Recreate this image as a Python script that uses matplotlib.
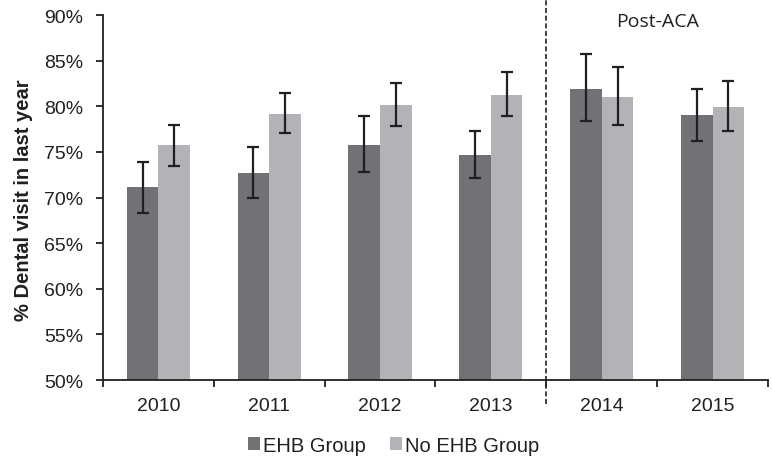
import numpy as np
import matplotlib
matplotlib.use('Agg')
import matplotlib.pyplot as plt
from matplotlib.ticker import FixedLocator, FuncFormatter
import matplotlib.transforms as mtransforms

years = ['2010', '2011', '2012', '2013', '2014', '2015']

# % with a dental visit in the last year, with CI bounds
ehb = [71.1, 72.7, 75.8, 74.7, 81.9, 79.0]
ehb_hi = [73.9, 75.5, 78.9, 77.3, 85.7, 81.9]
ehb_lo = [68.3, 70.0, 72.8, 72.1, 78.4, 76.2]

no_ehb = [75.8, 79.2, 80.1, 81.25, 81.0, 79.9]
no_ehb_hi = [78.0, 81.4, 82.5, 83.7, 84.3, 82.8]
no_ehb_lo = [73.5, 77.1, 77.8, 78.9, 78.0, 77.3]

plt.rcParams['font.family'] = ['Liberation Sans', 'DejaVu Sans']

x = np.arange(len(years))
w = 0.285

fig = plt.figure(figsize=(7.72, 4.6), dpi=100)
ax = fig.add_axes([0.1334, 0.1717, 0.8614, 0.7935])

dark = '#717276'
light = '#b2b3b6'
ecol = '#231f20'

ehb = np.array(ehb)
no_ehb = np.array(no_ehb)
err1 = [ehb - np.array(ehb_lo), np.array(ehb_hi) - ehb]
err2 = [no_ehb - np.array(no_ehb_lo), np.array(no_ehb_hi) - no_ehb]

ax.bar(x - w/2, ehb - 50, w, bottom=50, color=dark, label='EHB Group', zorder=2)
ax.bar(x + w/2, no_ehb - 50, w, bottom=50, color=light, label='No EHB Group', zorder=2)
ax.errorbar(x - w/2, ehb, yerr=err1, fmt='none', ecolor=ecol, elinewidth=1.6,
            capsize=4, capthick=1.6, zorder=3)
ax.errorbar(x + w/2, no_ehb, yerr=err2, fmt='none', ecolor=ecol, elinewidth=1.6,
            capsize=4, capthick=1.6, zorder=3)

ax.set_xlim(-0.5, 5.5)
ax.set_ylim(50, 90)
ax.set_yticks(np.arange(50, 91, 5))
ax.yaxis.set_major_formatter(FuncFormatter(lambda v, p: f'{v:.0f}%'))
ax.set_xticks(x)
ax.set_xticklabels(years)
ax.xaxis.set_minor_locator(FixedLocator(np.arange(-0.5, 6, 1)))
ax.tick_params(axis='x', which='major', length=0, pad=12, labelsize=14, colors='#231f20')
ax.tick_params(axis='x', which='minor', length=5, width=1.3, color='#231f20')
ax.tick_params(axis='y', length=5, width=1.3, pad=9, labelsize=14, colors='#231f20')

for s in ['top', 'right']:
    ax.spines[s].set_visible(False)
for s in ['left', 'bottom']:
    ax.spines[s].set_linewidth(1.3)
    ax.spines[s].set_color('#231f20')

ax.set_ylabel('% Dental visit in last year', fontsize=14.5, fontweight='bold', color='#231f20')
ax.yaxis.set_label_coords(-0.105, 0.496)

# pre/post ACA divider
trans = mtransforms.blended_transform_factory(ax.transData, ax.transAxes)
ax.plot([3.5, 3.5], [-0.066, 1.05], transform=trans, color='#231f20', lw=1.2,
        ls=(0, (3, 1.6)), clip_on=False, zorder=4)
ax.text(4.5, 0.984, 'Post-ACA', transform=trans, ha='center', va='center',
        fontsize=14, family='Open Sans', color='#231f20')

fig.legend(loc='center', bbox_to_anchor=(0.51, 0.03), ncol=2, frameon=False,
           fontsize=14.5, handlelength=0.6, handleheight=0.6, handletextpad=0.15,
           columnspacing=1.2, labelcolor='#231f20')

fig.savefig('out.png', dpi=100)
